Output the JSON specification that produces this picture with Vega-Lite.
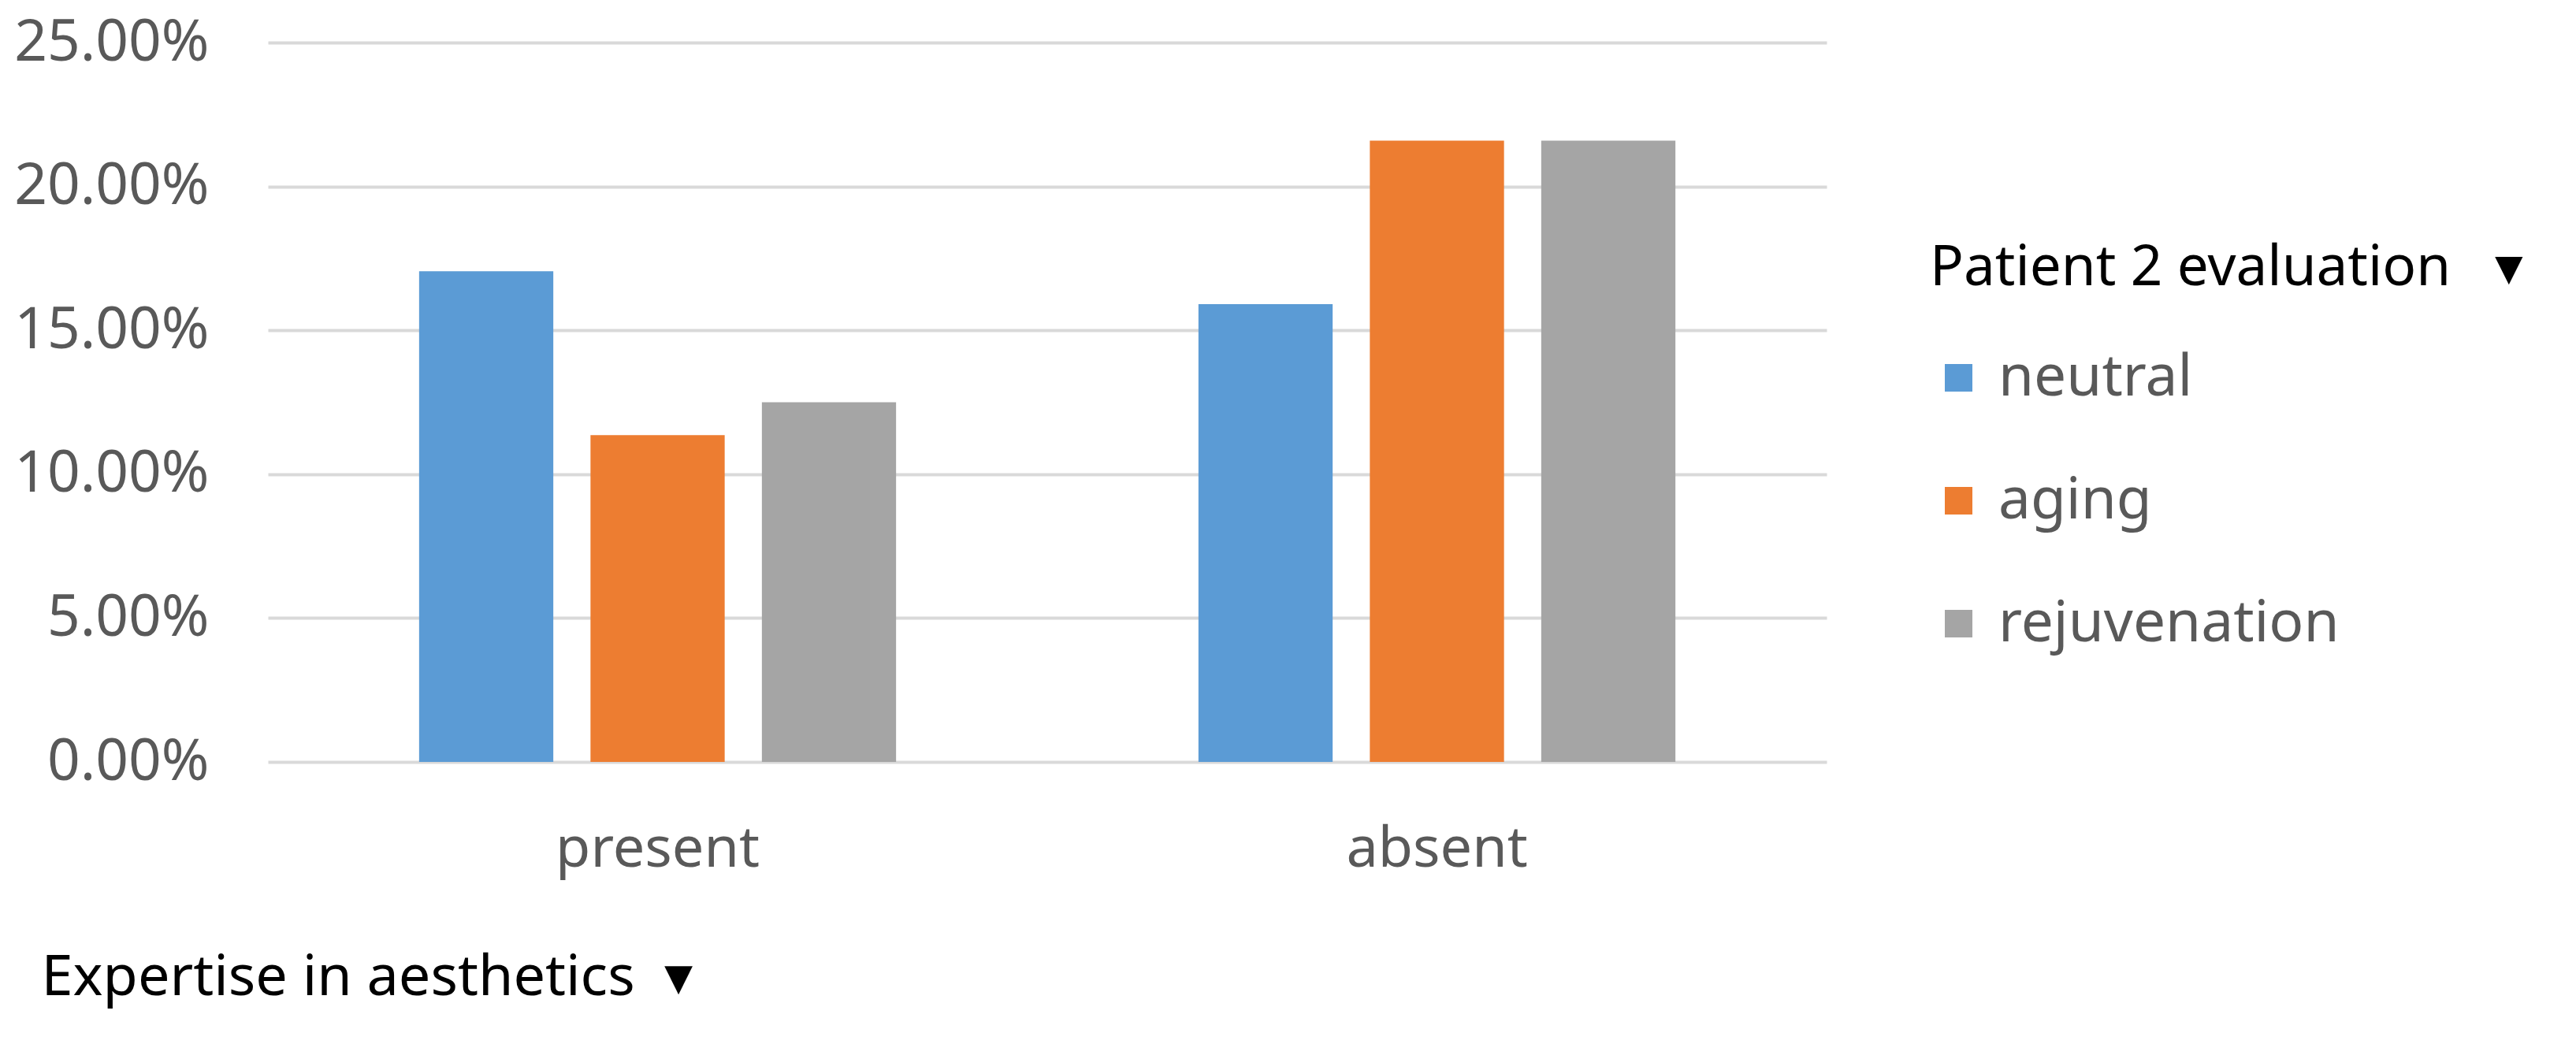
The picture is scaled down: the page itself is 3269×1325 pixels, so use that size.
{
  "$schema": "https://vega.github.io/schema/vega-lite/v6.json",
  "width": 1978,
  "height": 913,
  "autosize": {"type": "none"},
  "padding": {"left": 340, "top": 54, "right": 951, "bottom": 358},
  "background": "white",
  "config": {"font": "Noto Sans", "view": {"stroke": null}},
  "data": {
    "values": [
      {"expertise": "present", "evaluation": "neutral", "share": 0.1705},
      {"expertise": "present", "evaluation": "aging", "share": 0.1136},
      {"expertise": "present", "evaluation": "rejuvenation", "share": 0.125},
      {"expertise": "absent", "evaluation": "neutral", "share": 0.1591},
      {"expertise": "absent", "evaluation": "aging", "share": 0.2159},
      {"expertise": "absent", "evaluation": "rejuvenation", "share": 0.2159}
    ]
  },
  "mark": {"type": "bar"},
  "encoding": {
    "x": {
      "field": "expertise",
      "type": "nominal",
      "sort": ["present", "absent"],
      "scale": {"paddingInner": 0.388, "paddingOuter": 0.194},
      "axis": {
        "title": "Expertise in aesthetics\u00a0\u00a0▾",
        "titleFontSize": 72,
        "titleColor": "#000000",
        "titleFontWeight": "normal",
        "titleAnchor": "start",
        "titleAlign": "left",
        "titleBaseline": "alphabetic",
        "titleLimit": 3000,
        "titleX": -288,
        "titleY": 295,
        "labelFontSize": 72,
        "labelColor": "#595959",
        "labelLimit": 2000,
        "labelPadding": 132,
        "labelBaseline": "alphabetic",
        "labelAngle": 0,
        "ticks": false,
        "tickSize": 0,
        "domain": false,
        "grid": false
      }
    },
    "xOffset": {
      "field": "evaluation",
      "type": "nominal",
      "sort": ["neutral", "aging", "rejuvenation"],
      "scale": {"paddingInner": 0.217, "paddingOuter": 0}
    },
    "y": {
      "field": "share",
      "type": "quantitative",
      "scale": {"domain": [0, 0.25], "nice": false},
      "axis": {
        "title": null,
        "format": ".2%",
        "values": [0, 0.05, 0.1, 0.15, 0.2, 0.25],
        "labelFontSize": 73,
        "labelColor": "#595959",
        "labelLimit": 2000,
        "labelPadding": 75,
        "ticks": false,
        "tickSize": 0,
        "domain": false,
        "grid": true,
        "gridColor": "#D9D9D9",
        "gridWidth": 4
      }
    },
    "color": {
      "field": "evaluation",
      "type": "nominal",
      "sort": ["neutral", "aging", "rejuvenation"],
      "scale": {"domain": ["neutral", "aging", "rejuvenation"], "range": ["#5B9BD5", "#ED7D31", "#A5A5A5"]},
      "legend": {
        "orient": "none",
        "legendX": 2109,
        "legendY": 252,
        "padding": 0,
        "title": "Patient 2 evaluation\u00a0\u00a0\u00a0▾",
        "titleFontSize": 71,
        "titleColor": "#000000",
        "titleFontWeight": "normal",
        "titleLimit": 2000,
        "titlePadding": 66,
        "labelFontSize": 73,
        "labelColor": "#595959",
        "labelLimit": 2000,
        "labelOffset": 14,
        "symbolType": "square",
        "symbolSize": 1225,
        "symbolStrokeWidth": 0,
        "symbolOpacity": 1,
        "rowPadding": 82
      }
    }
  }
}
